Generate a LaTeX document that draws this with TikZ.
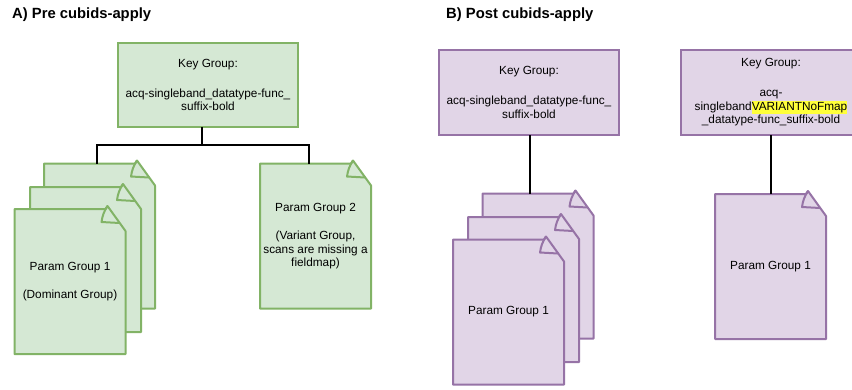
\documentclass[tikz,border=0pt]{standalone}
\usepackage{fontspec}
\setmainfont{Liberation Sans}
\usetikzlibrary{calc}
\definecolor{gfill}{HTML}{D5E8D4}
\definecolor{gline}{HTML}{82B366}
\definecolor{pfill}{HTML}{E1D5E7}
\definecolor{pline}{HTML}{9673A6}
\definecolor{hl}{HTML}{FFFF3A}
\newcommand\docoutline[2]{%
  \filldraw[docline, fill=#2fill, draw=#2line]
    (#1.north west) -- ($(#1.north east)+(-20,0)$) -- ($(#1.north east)+(-18,-3)$)
    -- ($(#1.north east)+(0,22)$) -- (#1.south east) -- (#1.south west) -- cycle;
  \draw[docline, draw=#2line] ($(#1.north east)+(-18,-3)$) to[bend right=12]
    ($(#1.north east)+(-24,13)$) -- ($(#1.north east)+(-6,14)$);}
\newcommand\hlword[1]{{\setlength\fboxsep{0pt}\colorbox{hl}{\strut #1}}}
\begin{document}
\begin{tikzpicture}[x=1pt,y=-1pt,
  lbl/.style={font=\fontsize{11.8}{13.5}\selectfont, align=center, inner sep=0pt},
  title/.style={font=\fontsize{14.8}{17}\selectfont\bfseries, inner sep=0pt, anchor=base west},
  keybox/.style={lbl, draw, line width=2pt, minimum width=180pt, minimum height=84pt, outer sep=0pt},
  gkey/.style={keybox, fill=gfill, draw=gline},
  pkey/.style={keybox, fill=pfill, draw=pline},
  docbox/.style={rectangle, draw=none, inner sep=0pt, outer sep=0pt, minimum width=111pt, minimum height=145pt},
  docline/.style={line width=2pt, line join=round},
  conn/.style={draw=black, line width=1.3pt}]
\useasboundingbox (0,0) rectangle (852,389);
\fill[white] (0,0) rectangle (852,389);
\clip (0,0) rectangle (852,389);

% titles
\node[title] (tA) at (12,18) {A) Pre cubids-apply};
\node[title] (tB) at (446,18) {B) Post cubids-apply};

% ---- A) green ----
\node[gkey] (gk) at (208,85) {Key Group:\\[16.5pt]acq-singleband\_datatype-func\_\\suffix-bold};

\node[docbox] (gA3) at (99.5,236) {};
\docoutline{gA3}{g}
\node[docbox] (gA2) at (85.5,259.5) {};
\docoutline{gA2}{g}
\node[docbox] (gA1) at (70,281.5) {};
\docoutline{gA1}{g}
\node[lbl] (gA1t) at (gA1.center) {Param Group 1\\[15pt](Dominant Group)};

\node[docbox] (gP2) at (315.5,236) {};
\docoutline{gP2}{g}
\node[lbl] (gP2t) at (gP2.center) {Param Group 2\\[15pt](Variant Group,\\scans are missing a\\fieldmap)};

\coordinate (gj) at ($(gk.south)+(-6,18)$);
\draw[conn] ($(gk.south)+(-6,0)$) -- (gj);
\draw[conn] (gj) -| ($(gA3.north)+(-2.5,0)$);
\draw[conn] (gj) -| ($(gP2.north)+(-6.5,0)$);

% ---- B) purple ----
\node[pkey, minimum height=85pt] (pk1) at (529,92.5) {Key Group:\\[16.5pt]acq-singleband\_datatype-func\_\\suffix-bold};
\node[pkey, minimum height=85pt] (pk2) at (771,92.5) {Key Group:\\[16.5pt]acq-\\singleband\hlword{VARIANTNoFmap}\\\_datatype-func\_suffix-bold};

\node[docbox] (pB3) at (538,266) {};
\docoutline{pB3}{p}
\node[docbox] (pB2) at (523.5,289.5) {};
\docoutline{pB2}{p}
\node[docbox] (pB1) at (508.5,312) {};
\docoutline{pB1}{p}
\node[lbl] (pB1t) at (pB1.center) {Param Group 1};

\node[docbox] (pR) at (770.5,266.5) {};
\docoutline{pR}{p}
\node[lbl] (pRt) at (pR.center) {Param Group 1};

\coordinate (pk1b) at ($(pk1.south)+(1,0)$);
\draw[conn] (pk1b) -- (pk1b |- pB3.north);
\draw[conn] (pk2.south) -- (pk2.south |- pR.north);
\end{tikzpicture}
\end{document}
